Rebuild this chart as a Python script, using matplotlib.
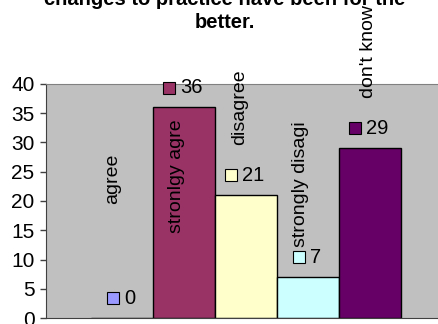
import matplotlib.pyplot as plt

# responses to "changes to practice have been for the better."
categories = ['agree', 'stronlgy agre', 'disagree', 'strongly disagi', "don't know"]
counts = [0, 36, 21, 7, 29]
colors = ['#9999FF', '#993366', '#FFFFCC', '#CCFFFF', '#660066']

# where the rotated series names sit (data units)
name_dx = [-0.153, -0.129, -0.097, -0.113, -0.032]
name_y = [23.8, 24.2, 36.0, 22.9, 45.6]

plt.rcParams['font.family'] = ['Liberation Sans', 'DejaVu Sans']

fig = plt.figure(figsize=(4.39, 3.24), dpi=100)
W, H = 439, 324
# plot area in pixels: left 46, right 439 (clipped), top 84, bottom 318
ax = fig.add_axes([46 / W, (H - 318) / H, (439 - 46) / W, (318 - 84) / H])
ax.set_facecolor('#C0C0C0')

x = list(range(len(categories)))
ax.bar(x, counts, width=1.0, color=colors, edgecolor='black', linewidth=1.0, zorder=2)

ax.set_ylim(0, 40)
ax.set_yticks(range(0, 41, 5))
ax.set_xlim(-0.5 - 45 / 62, -0.5 + 348 / 62)
ax.set_xticks([])
ax.tick_params(axis='y', direction='out', length=4.3, width=1, color='#404040',
               labelsize=15, pad=4)
ax.spines['left'].set_color('#404040')
ax.spines['bottom'].set_color('#404040')
ax.spines['top'].set_color('#808080')
ax.spines['right'].set_visible(False)

px = 1 / 62  # one pixel in x data units
for i, v in enumerate(counts):
    txt = str(v)
    off = (8.5 if len(txt) == 1 else 15) * px
    ax.plot(i - off, v + 3.4, marker='s', markersize=8, color=colors[i],
            markeredgecolor='black', markeredgewidth=0.8, clip_on=False, zorder=4)
    ax.text(i - off + 11 * px, v + 3.4, txt, fontsize=14.5, va='center', ha='left', zorder=4)
    ax.text(i + name_dx[i], name_y[i], categories[i], rotation=90, fontsize=14,
            va='center', ha='center', zorder=4)

fig.text(225 / W, 1 - 5 / H, 'changes to practice have been for the', fontsize=14.5,
         fontweight='bold', ha='center', va='baseline')
fig.text(225 / W, 1 - 28 / H, 'better.', fontsize=14.5, fontweight='bold',
         ha='center', va='baseline')

fig.savefig('out.png', dpi=100)
